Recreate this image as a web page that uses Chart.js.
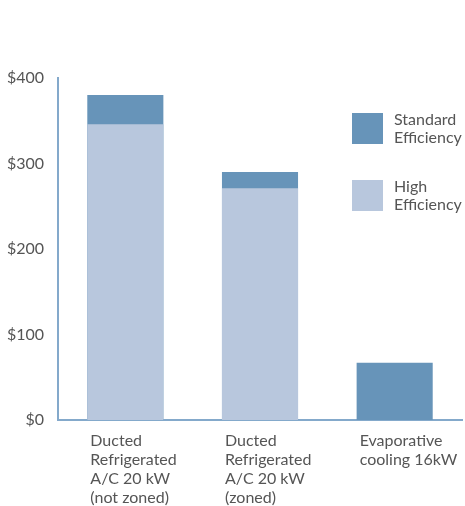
<!DOCTYPE html>
<html>
<head>
<meta charset="utf-8">
<script src="https://cdn.jsdelivr.net/npm/chart.js@4"></script>
<style>
  html, body { margin: 0; padding: 0; background: #fff; }
  #wrap { position: relative; width: 465px; height: 506px; }
  .legend { position: absolute; left: 352px; font-family: Lato, sans-serif; font-size: 16px; line-height: 18px; color: #555; }
  .legend .box { position: absolute; left: 0; top: 0; width: 31px; height: 31px; }
  .legend .txt { position: absolute; left: 42px; top: -3px; white-space: nowrap; }
</style>
</head>
<body>
<div id="wrap">
  <canvas id="costChart"></canvas>
  <div class="legend" style="top:113px"><div class="box" style="background:#6794b9"></div><div class="txt">Standard<br>Efficiency</div></div>
  <div class="legend" style="top:180px"><div class="box" style="background:#b8c7dd"></div><div class="txt">High<br>Efficiency</div></div>
</div>
<script>
const categories = [
  ["Ducted", "Refrigerated", "A/C 20 kW", "(not zoned)"],
  ["Ducted", "Refrigerated", "A/C 20 kW", "(zoned)"],
  ["Evaporative", "cooling 16kW"]
];
const standardEfficiency = [380, 290, 67];
const highEfficiency = [346, 271, null];
const yTicks = [0, 100, 200, 300, 400];

const ctx = document.getElementById("costChart").getContext("2d");

// bars overlap: high efficiency drawn in front of standard
new Chart(ctx, {
  type: "bar",
  data: {
    labels: categories,
    datasets: [
      {
        label: "Standard Efficiency",
        data: standardEfficiency,
        backgroundColor: "#6794b9",
        order: 2,
      },
      {
        label: "High Efficiency",
        data: highEfficiency,
        backgroundColor: "#b8c7dd",
        order: 1,
      },
    ],
  },
  options: {
    responsive: true,
    maintainAspectRatio: false,
    animation: false,
    layout: { padding: { top: 78, left: 0, right: 3, bottom: 0 } },
    plugins: { legend: { display: false }, tooltip: { enabled: false } },
    datasets: { bar: { barPercentage: 1, categoryPercentage: 0.565 } },
    scales: {
      x: {
        stacked: true,
        grid: { display: false },
        border: { display: true, color: "#84a9cb", width: 2 },
        afterFit: (axis) => {
          axis.height = 86;
          axis.paddingLeft = 0;
          axis.paddingRight = 0;
        },
        ticks: {
          color: "#555",
          font: { family: "Lato", size: 16, lineHeight: 1.2 },
          align: "start",
          labelOffset: -35,
          padding: 3,
          maxRotation: 0,
          autoSkip: false,
        },
      },
      y: {
        stacked: false,
        min: 0,
        max: 400,
        afterBuildTicks: (axis) => { axis.ticks = yTicks.map((v) => ({ value: v })); },
        afterFit: (axis) => { axis.width = 58; },
        grid: { display: false },
        border: { display: true, color: "#84a9cb", width: 2 },
        ticks: {
          color: "#555",
          font: { family: "Lato", size: 16 },
          padding: 6,
          callback: (v) => "$" + v,
        },
      },
    },
  },
});
</script>
</body>
</html>
